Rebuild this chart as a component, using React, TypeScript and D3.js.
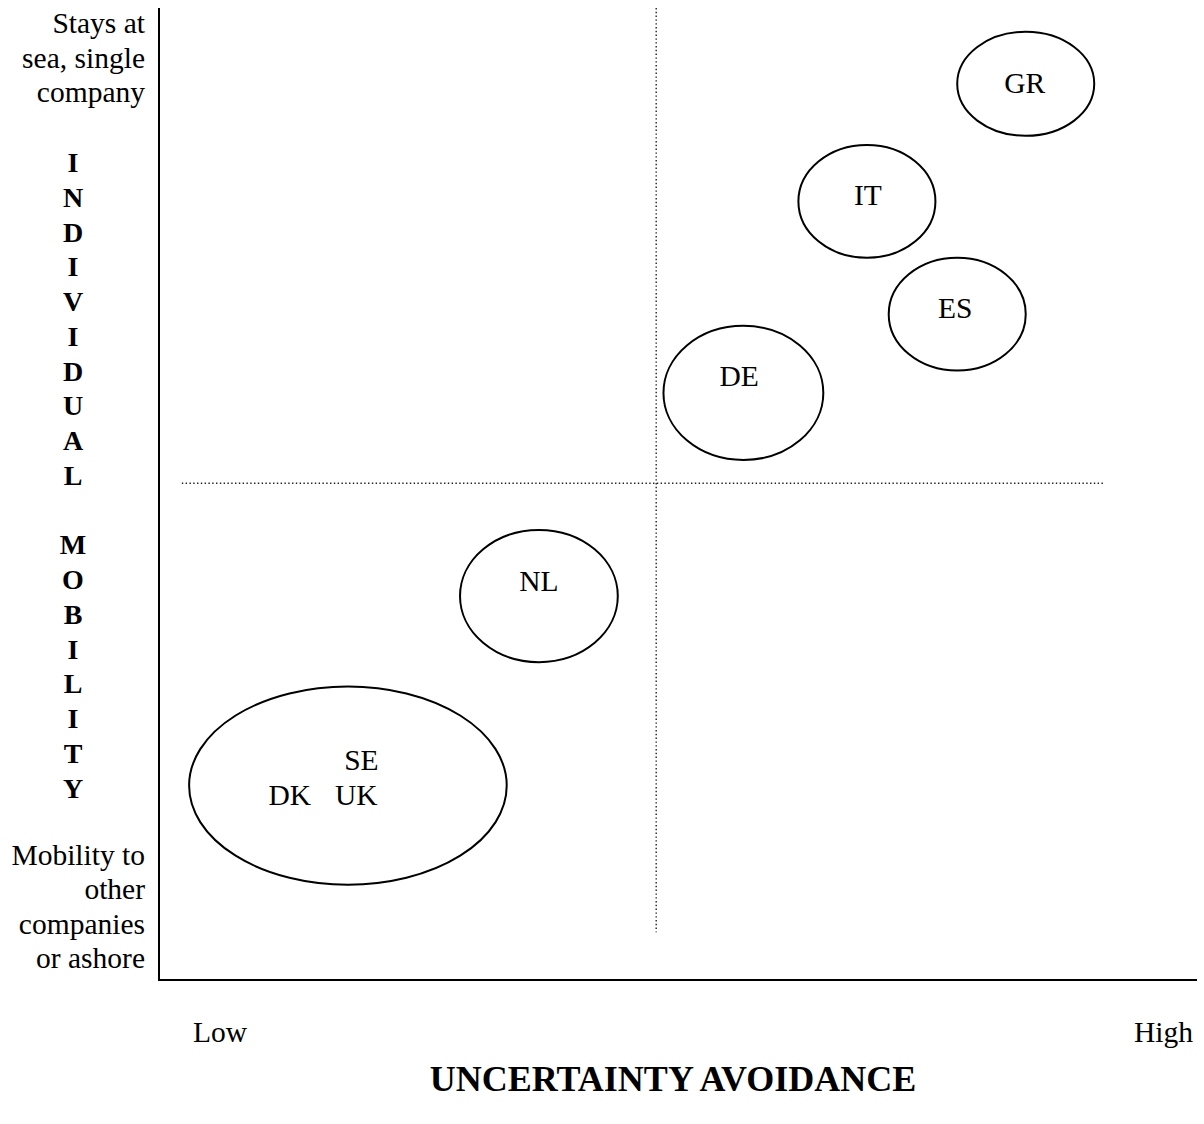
import React from "react";
import * as d3 from "d3";

// Countries / clusters (position on Uncertainty Avoidance (x) and Individual Mobility (y), 0-100)
const clusterIds = ["GR", "IT", "ES", "DE", "NL", "NORDIC"];
const clusterX = [83.5, 68.2, 76.9, 56.3, 36.6, 18.2];
const clusterY = [92.2, 80.1, 68.5, 60.4, 39.5, 20.0];
const clusterRx = [6.6, 6.6, 6.6, 7.7, 7.6, 15.3];
const clusterRy = [5.35, 5.8, 5.8, 6.9, 6.8, 10.2];

// Country labels
const labelText = ["GR", "IT", "ES", "DE", "NL", "SE", "DK", "UK"];
const labelX = [83.4, 68.3, 76.7, 55.9, 36.6, 19.5, 12.6, 19.0];
const labelY = [91.3, 79.7, 68.1, 61.1, 40.0, 21.6, 18.0, 18.0];

// Quadrant dividers
const midX = 47.9;
const midY = 51.1;
const hDividerExtent = [2.2, 91.1];
const vDividerExtent = [4.9, 100];

// Axis texts
const xTickLabels = ["Low", "High"];
const xTitle = "UNCERTAINTY AVOIDANCE";
const yTopLabel = ["Stays at", "sea, single", "company"];
const yBottomLabel = ["Mobility to", "other", "companies", "or ashore"];
const yTitleLetters = "INDIVIDUAL MOBILITY".split("");

const W = 1204;
const H = 1124;
const left = 159;
const right = 1197;
const top = 8;
const bottom = 980;

export default function App() {
  const x = d3.scaleLinear().domain([0, 100]).range([left, right]);
  const y = d3.scaleLinear().domain([0, 100]).range([bottom, top]);
  const sx = (v: number) => x(v) - x(0);
  const sy = (v: number) => y(0) - y(v);
  const font = "'Liberation Serif', 'Times New Roman', serif";
  const fs = 29.5;
  const lh = 34.6;

  return (
    <svg
      width={W}
      height={H}
      viewBox={`0 0 ${W} ${H}`}
      style={{ position: "absolute", left: 0, top: 0, background: "#fff" }}
      fontFamily={font}
    >
      <rect x={0} y={0} width={W} height={H} fill="#fff" />
      {/* dotted quadrant dividers */}
      <line
        x1={x(midX)}
        x2={x(midX)}
        y1={y(vDividerExtent[1])}
        y2={y(vDividerExtent[0])}
        stroke="#222"
        strokeWidth={1.4}
        strokeDasharray="1.4 2.4"
      />
      <line
        x1={x(hDividerExtent[0])}
        x2={x(hDividerExtent[1])}
        y1={y(midY)}
        y2={y(midY)}
        stroke="#222"
        strokeWidth={1.4}
        strokeDasharray="1.4 2.4"
      />
      {/* axes */}
      <line x1={left} x2={left} y1={top} y2={bottom + 1} stroke="#000" strokeWidth={2} />
      <line x1={left} x2={right} y1={bottom} y2={bottom} stroke="#000" strokeWidth={2} />

      {/* ellipses */}
      {clusterIds.map((id, i) => (
        <ellipse
          key={id}
          cx={x(clusterX[i])}
          cy={y(clusterY[i])}
          rx={sx(clusterRx[i])}
          ry={sy(clusterRy[i])}
          fill="none"
          stroke="#000"
          strokeWidth={2}
        />
      ))}
      {labelText.map((t, i) => (
        <text
          key={t}
          x={x(labelX[i])}
          y={y(labelY[i])}
          textAnchor="middle"
          fontSize={fs}
          fill="#000"
        >
          {t}
        </text>
      ))}

      {/* y-axis texts */}
      {yTopLabel.map((t, i) => (
        <text key={"t" + i} x={145} y={33 + i * lh} textAnchor="end" fontSize={fs}>
          {t}
        </text>
      ))}
      {yTitleLetters.map((c, i) =>
        c === " " ? null : (
          <text
            key={"l" + i}
            x={73}
            y={172 + i * 34.75}
            textAnchor="middle"
            fontSize={28}
            fontWeight="bold"
          >
            {c}
          </text>
        )
      )}
      {yBottomLabel.map((t, i) => (
        <text key={"b" + i} x={145} y={865 + i * 34.3} textAnchor="end" fontSize={fs}>
          {t}
        </text>
      ))}

      {/* x-axis texts */}
      <text x={193} y={1042} fontSize={fs}>
        {xTickLabels[0]}
      </text>
      <text x={1193} y={1042} textAnchor="end" fontSize={fs}>
        {xTickLabels[1]}
      </text>
      <text x={673} y={1091} textAnchor="middle" fontSize={36} fontWeight="bold">
        {xTitle}
      </text>
    </svg>
  );
}
